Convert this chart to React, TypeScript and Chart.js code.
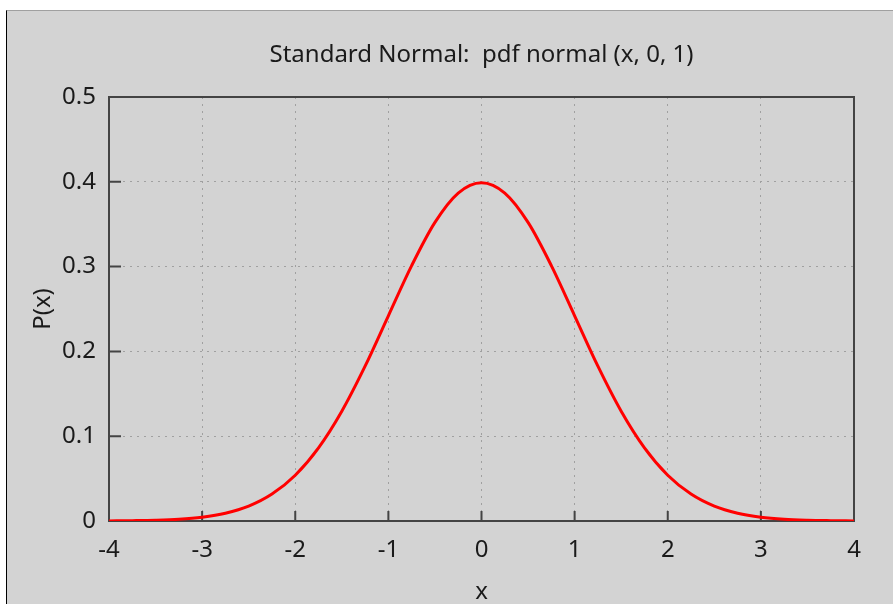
import { useEffect, useRef } from "react";
import { Chart, registerables } from "chart.js";

Chart.register(...registerables);

const TITLE = "Standard Normal:  pdf normal (x, 0, 1)";
const X_LABEL = "x";
const Y_LABEL = "P(x)";

const xValues = [
  -4, -3.75, -3.5, -3.25, -3, -2.75, -2.5, -2.25, -2, -1.75, -1.5, -1.25, -1, -0.75, -0.5, -0.25,
  0, 0.25, 0.5, 0.75, 1, 1.25, 1.5, 1.75, 2, 2.25, 2.5, 2.75, 3, 3.25, 3.5, 3.75, 4,
];
const pdfValues = [
  0.0001, 0.0004, 0.0009, 0.002, 0.0044, 0.0091, 0.0175, 0.0317, 0.054, 0.0863, 0.1295, 0.1826,
  0.242, 0.3011, 0.3521, 0.3867, 0.3989, 0.3867, 0.3521, 0.3011, 0.242, 0.1826, 0.1295, 0.0863,
  0.054, 0.0317, 0.0175, 0.0091, 0.0044, 0.002, 0.0009, 0.0004, 0.0001,
];
const xTickValues = [-4, -3, -2, -1, 0, 1, 2, 3, 4];
const yTickValues = [0, 0.1, 0.2, 0.3, 0.4, 0.5];

const FONT = "'Noto Sans', 'DejaVu Sans', sans-serif";
const TEXT = "#1a1a1a";

const framePlugin = {
  id: "frame",
  beforeDatasetsDraw(chart: any) {
    const { ctx, chartArea, scales } = chart;
    const { left, top, right, bottom } = chartArea;
    ctx.save();
    ctx.strokeStyle = "#444444";
    ctx.lineWidth = 2;
    ctx.strokeRect(left, top, right - left, bottom - top);
    ctx.beginPath();
    for (const v of yTickValues) {
      const py = scales.y.getPixelForValue(v);
      ctx.moveTo(left, py);
      ctx.lineTo(left + 12, py);
    }
    for (const v of xTickValues) {
      const px = scales.x.getPixelForValue(v);
      ctx.moveTo(px, bottom);
      ctx.lineTo(px, bottom - 10);
    }
    ctx.stroke();
    ctx.restore();
  },
};

export default function App() {
  const ref = useRef<HTMLCanvasElement | null>(null);

  useEffect(() => {
    if (!ref.current) return;
    const chart = new Chart(ref.current, {
      type: "line",
      data: {
        datasets: [
          {
            data: xValues.map((x, i) => ({ x, y: pdfValues[i] })),
            borderColor: "#ff0000",
            borderWidth: 3,
            pointRadius: 0,
            fill: false,
            cubicInterpolationMode: "monotone",
          },
        ],
      },
      options: {
        responsive: false,
        animation: false,
        layout: { padding: { left: 0, right: 39, top: 0, bottom: 0 } },
        plugins: {
          legend: { display: false },
          tooltip: { enabled: false },
          title: {
            display: true,
            fullSize: false,
            text: TITLE,
            color: TEXT,
            font: { family: FONT, size: 24, weight: "normal", lineHeight: 1.2 },
            padding: { top: 29.6, bottom: 27.6 },
          },
        },
        scales: {
          x: {
            type: "linear",
            min: -4,
            max: 4,
            afterBuildTicks: (s: any) => {
              s.ticks = xTickValues.map((v) => ({ value: v }));
            },
            afterFit: (s: any) => {
              s.height = 83;
              s.paddingLeft = 0;
              s.paddingRight = 0;
            },
            grid: {
              color: "#a0a0a0",
              lineWidth: 1,
              drawTicks: false,
            },
            border: { display: false, dash: [2, 5] },
            ticks: {
              color: TEXT,
              padding: 15,
              maxRotation: 0,
              font: { family: FONT, size: 24, lineHeight: 1.2 },
            },
            title: {
              display: true,
              text: X_LABEL,
              color: TEXT,
              font: { family: FONT, size: 24, lineHeight: 1 },
              padding: { top: 0, bottom: 0 },
            },
          },
          y: {
            type: "linear",
            min: 0,
            max: 0.5,
            afterBuildTicks: (s: any) => {
              s.ticks = yTickValues.map((v) => ({ value: v }));
            },
            afterFit: (s: any) => {
              s.width = 102;
              s.paddingTop = 0;
              s.paddingBottom = 0;
            },
            grid: {
              color: "#a0a0a0",
              lineWidth: 1,
              drawTicks: false,
            },
            border: { display: false, dash: [2, 5] },
            ticks: {
              color: TEXT,
              padding: 13,
              font: { family: FONT, size: 24, lineHeight: 1.2 },
              callback: (v: any) => String(Math.round(Number(v) * 10) / 10),
            },
            title: {
              display: true,
              text: Y_LABEL,
              color: TEXT,
              font: { family: FONT, size: 24, lineHeight: 1.2 },
              padding: { top: 22, bottom: 0 },
            },
          },
        },
      },
      plugins: [framePlugin],
    } as any);
    return () => chart.destroy();
  }, []);

  return (
    <div
      style={{
        position: "absolute",
        left: 0,
        top: 0,
        width: 893,
        height: 604,
        background: "#ffffff",
        overflow: "hidden",
      }}
    >
      <div
        style={{
          position: "absolute",
          left: 6,
          top: 10,
          width: 887,
          height: 594,
          boxSizing: "border-box",
          background: "#d3d3d3",
          borderLeft: "1px solid #000000",
          borderTop: "1px solid #a0a0a0",
        }}
      >
        <canvas ref={ref} width={886} height={593} style={{ display: "block" }} />
      </div>
    </div>
  );
}
